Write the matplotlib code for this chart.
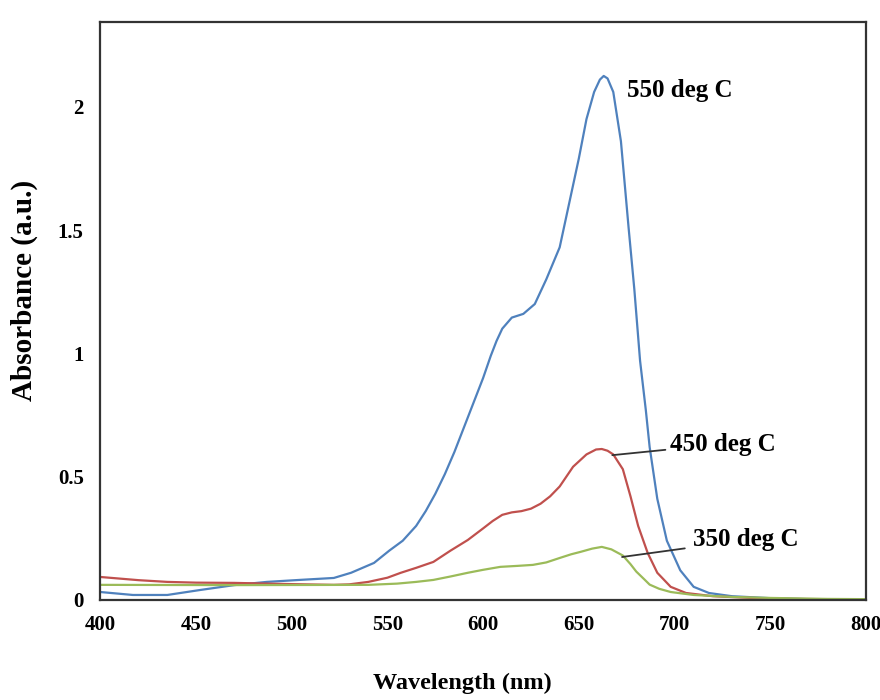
import matplotlib.pyplot as plt

# Absorbance spectra (wavelength in nm)
wl_550 = [400, 417, 435, 452, 470, 487, 504, 522, 531, 543, 551, 558, 565, 570, 575, 580,
          585, 590, 595, 600, 604, 607, 610, 615, 621, 627, 633, 640, 645, 650, 654, 658,
          661, 663, 665, 668, 672, 676, 679, 682, 685, 687, 691, 696, 703, 710, 718, 730,
          750, 770, 800]
abs_550 = [0.032, 0.02, 0.02, 0.04, 0.06, 0.073, 0.081, 0.089, 0.11, 0.15, 0.20, 0.24, 0.30,
           0.36, 0.43, 0.51, 0.60, 0.70, 0.80, 0.90, 0.99, 1.05, 1.10, 1.145, 1.16, 1.20, 1.30,
           1.43, 1.61, 1.79, 1.95, 2.06, 2.11, 2.125, 2.115, 2.06, 1.86, 1.51, 1.26, 0.97,
           0.77, 0.62, 0.41, 0.24, 0.12, 0.053, 0.028, 0.015, 0.007, 0.003, 0.0]

wl_450 = [400, 420, 435, 450, 470, 500, 522, 530, 540, 550, 557, 565, 574, 583, 592, 600,
          605, 610, 615, 620, 625, 630, 635, 640, 647, 654, 659, 662, 665, 668, 673, 677,
          681, 686, 691, 698, 706, 720, 740, 760, 800]
abs_450 = [0.093, 0.08, 0.073, 0.07, 0.069, 0.064, 0.061, 0.063, 0.073, 0.09, 0.11, 0.13,
           0.154, 0.20, 0.243, 0.29, 0.32, 0.345, 0.355, 0.36, 0.37, 0.39, 0.42, 0.46, 0.54,
           0.59, 0.61, 0.612, 0.605, 0.59, 0.53, 0.42, 0.30, 0.19, 0.11, 0.053, 0.028, 0.015,
           0.008, 0.004, 0.002]

wl_350 = [400, 470, 540, 555, 565, 574, 583, 592, 600, 609, 618, 626, 633, 640, 646, 651,
          657, 662, 667, 673, 677, 680, 684, 687, 692, 698, 710, 730, 750, 780, 800]
abs_350 = [0.061, 0.06, 0.061, 0.066, 0.073, 0.081, 0.095, 0.11, 0.122, 0.134, 0.138, 0.142,
           0.152, 0.17, 0.185, 0.195, 0.208, 0.215, 0.205, 0.18, 0.145, 0.115, 0.085, 0.062,
           0.045, 0.032, 0.02, 0.012, 0.008, 0.004, 0.003]

x_ticks = [400, 450, 500, 550, 600, 650, 700, 750, 800]
y_ticks = [0, 0.5, 1, 1.5, 2]
y_tick_labels = ['0', '0.5', '1', '1.5', '2']

plt.rcParams['font.family'] = ['Liberation Serif', 'DejaVu Serif']
plt.rcParams['font.weight'] = 'bold'

fig = plt.figure(figsize=(8.8, 7), dpi=100)
ax = fig.add_axes([0.114, 0.143, 0.870, 0.826])

line_kw = dict(lw=1.6, solid_joinstyle='round', solid_capstyle='round')
ax.plot(wl_550, abs_550, color='#4f81bd', **line_kw)
ax.plot(wl_450, abs_450, color='#c0504d', **line_kw)
ax.plot(wl_350, abs_350, color='#9bbb59', **line_kw)

ax.set_xlim(400, 800)
ax.set_ylim(0, 2.345)
ax.set_xticks(x_ticks)
ax.set_yticks(y_ticks)
ax.set_yticklabels(y_tick_labels)
ax.tick_params(length=0, labelsize=15)
ax.tick_params(axis='x', pad=11)
ax.tick_params(axis='y', pad=12)
for lab in ax.get_xticklabels() + ax.get_yticklabels():
    lab.set_fontweight('bold')

for s in ax.spines.values():
    s.set_color('#333333')
    s.set_linewidth(1.6)

# axis titles placed in figure coordinates
fig.text(462 / 880, 1 - 683 / 700, 'Wavelength (nm)', fontsize=17.5, fontweight='bold',
         ha='center', va='center')
fig.text(24 / 880, 1 - 290 / 700, 'Absorbance (a.u.)', fontsize=21, fontweight='bold',
         ha='center', va='center', rotation=90)

# curve labels with leader lines
ax.text(675, 2.065, '550 deg C', fontsize=18, fontweight='bold', va='center')
ax.annotate('450 deg C', xy=(667.5, 0.587), xytext=(697.4, 0.632), fontsize=18,
            fontweight='bold', va='center',
            arrowprops=dict(arrowstyle='-', color='#333333', lw=1.3, shrinkA=1, shrinkB=0))
ax.annotate('350 deg C', xy=(672.6, 0.174), xytext=(709.7, 0.243), fontsize=18,
            fontweight='bold', va='center',
            arrowprops=dict(arrowstyle='-', color='#333333', lw=1.3, shrinkA=4, shrinkB=0))

fig.savefig('out.png', dpi=100)
